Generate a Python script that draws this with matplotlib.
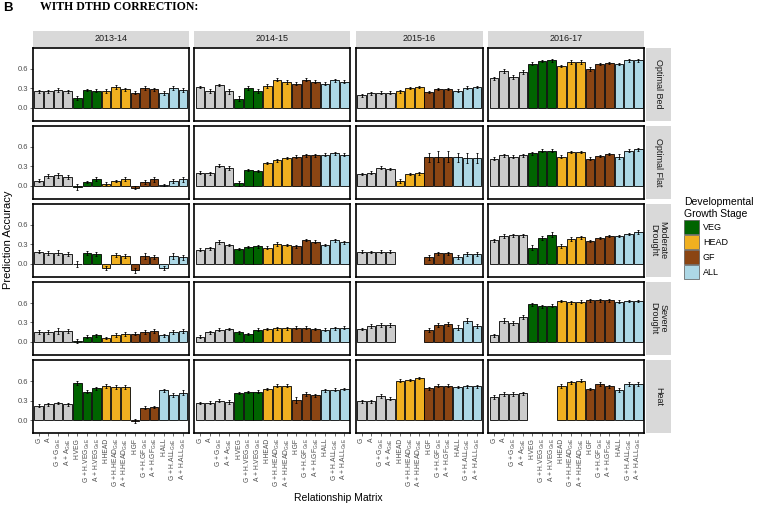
import numpy as np
import matplotlib.pyplot as plt
from matplotlib.patches import Rectangle, Patch

plt.rcParams['font.family'] = ['Liberation Sans', 'DejaVu Sans']
plt.rcParams['mathtext.fontset'] = 'custom'
plt.rcParams['mathtext.rm'] = 'Liberation Sans'

nan = np.nan
years = ['2013-14', '2014-15', '2015-16', '2016-17']
envs = ['Optimal Bed', 'Optimal Flat', 'Moderate Drought', 'Severe Drought', 'Heat']
strip_names = ['Optimal Bed', 'Optimal Flat', 'Moderate\nDrought', 'Severe\nDrought', 'Heat']

labels_all = ['G', 'A', r'G + G$_{\mathrm{GxE}}$', r'A + A$_{\mathrm{GxE}}$',
              'H.VEG', r'G + H.VEG$_{\mathrm{GxE}}$', r'A + H.VEG$_{\mathrm{GxE}}$',
              'H.HEAD', r'G + H.HEAD$_{\mathrm{GxE}}$', r'A + H.HEAD$_{\mathrm{GxE}}$',
              'H.GF', r'G + H.GF$_{\mathrm{GxE}}$', r'A + H.GF$_{\mathrm{GxE}}$',
              'H.ALL', r'G + H.ALL$_{\mathrm{GxE}}$', r'A + H.ALL$_{\mathrm{GxE}}$']
stages_all = ['base'] * 4 + ['VEG'] * 3 + ['HEAD'] * 3 + ['GF'] * 3 + ['ALL'] * 3
# 2015-16 has no VEG matrices
no_veg = [0, 1, 2, 3] + list(range(7, 16))

stage_colors = {'base': '#CCCCCC', 'VEG': '#006400', 'HEAD': '#F0B020',
                'GF': '#8B4513', 'ALL': '#ADD8E6'}

# prediction accuracy (2015-16 lists skip the VEG bars)
optimal_bed = {
    '2013-14': [0.25, 0.25, 0.27, 0.25, 0.15, 0.27, 0.26, 0.25, 0.32, 0.28, 0.23, 0.30, 0.28, 0.23, 0.30, 0.27],
    '2014-15': [0.32, 0.25, 0.35, 0.25, 0.14, 0.30, 0.26, 0.34, 0.43, 0.39, 0.37, 0.43, 0.40, 0.37, 0.42, 0.40],
    '2015-16': [0.19, 0.22, 0.23, 0.23, 0.25, 0.30, 0.32, 0.24, 0.29, 0.29, 0.26, 0.31, 0.32],
    '2016-17': [0.45, 0.56, 0.47, 0.55, 0.68, 0.72, 0.73, 0.64, 0.70, 0.70, 0.60, 0.67, 0.69, 0.67, 0.73, 0.73],
}
optimal_flat = {
    '2013-14': [0.08, 0.15, 0.16, 0.14, -0.02, 0.06, 0.11, 0.03, 0.07, 0.11, -0.03, 0.06, 0.10, 0.01, 0.07, 0.10],
    '2014-15': [0.20, 0.19, 0.31, 0.27, 0.04, 0.24, 0.23, 0.35, 0.39, 0.43, 0.45, 0.47, 0.47, 0.48, 0.50, 0.48],
    '2015-16': [0.18, 0.20, 0.28, 0.26, 0.07, 0.18, 0.19, 0.44, 0.45, 0.45, 0.44, 0.43, 0.43],
    '2016-17': [0.42, 0.47, 0.45, 0.47, 0.50, 0.54, 0.54, 0.45, 0.52, 0.52, 0.42, 0.46, 0.49, 0.45, 0.54, 0.56],
}
moderate_drought = {
    '2013-14': [0.19, 0.17, 0.17, 0.15, 0.00, 0.17, 0.15, -0.06, 0.13, 0.12, -0.10, 0.12, 0.10, -0.06, 0.12, 0.10],
    '2014-15': [0.22, 0.24, 0.33, 0.29, 0.23, 0.26, 0.27, 0.25, 0.30, 0.29, 0.27, 0.37, 0.34, 0.29, 0.36, 0.33],
    '2015-16': [0.19, 0.18, 0.19, 0.19, nan, nan, nan, 0.10, 0.16, 0.16, 0.10, 0.15, 0.15],
    '2016-17': [0.36, 0.43, 0.44, 0.44, 0.25, 0.40, 0.45, 0.28, 0.38, 0.41, 0.35, 0.40, 0.43, 0.43, 0.46, 0.49],
}
severe_drought = {
    '2013-14': [0.15, 0.16, 0.17, 0.17, 0.01, 0.08, 0.10, 0.06, 0.11, 0.12, 0.13, 0.16, 0.17, 0.10, 0.16, 0.17],
    '2014-15': [0.08, 0.15, 0.19, 0.20, 0.15, 0.12, 0.19, 0.20, 0.21, 0.21, 0.22, 0.22, 0.20, 0.19, 0.21, 0.22],
    '2015-16': [0.20, 0.25, 0.26, 0.26, nan, nan, nan, 0.19, 0.26, 0.27, 0.22, 0.33, 0.25],
    '2016-17': [0.10, 0.33, 0.29, 0.38, 0.58, 0.55, 0.56, 0.63, 0.61, 0.62, 0.64, 0.64, 0.64, 0.62, 0.63, 0.63],
}
heat = {
    '2013-14': [0.22, 0.24, 0.26, 0.24, 0.57, 0.44, 0.49, 0.52, 0.51, 0.51, -0.01, 0.19, 0.20, 0.46, 0.39, 0.42],
    '2014-15': [0.26, 0.27, 0.30, 0.28, 0.42, 0.43, 0.44, 0.48, 0.53, 0.53, 0.31, 0.40, 0.38, 0.46, 0.47, 0.48],
    '2015-16': [0.29, 0.29, 0.37, 0.33, 0.61, 0.62, 0.65, 0.49, 0.53, 0.53, 0.51, 0.52, 0.52],
    '2016-17': [0.35, 0.40, 0.40, 0.41, nan, nan, nan, 0.53, 0.58, 0.61, 0.48, 0.55, 0.52, 0.47, 0.56, 0.55],
}
accuracy = [optimal_bed, optimal_flat, moderate_drought, severe_drought, heat]

# standard errors (rough)
err_bed = {
    '2013-14': [0.02, 0.02, 0.03, 0.02, 0.03, 0.02, 0.02, 0.03, 0.03, 0.03, 0.02, 0.03, 0.03, 0.03, 0.03, 0.03],
    '2014-15': [0.02, 0.03, 0.02, 0.04, 0.04, 0.03, 0.03, 0.03, 0.02, 0.03, 0.02, 0.02, 0.02, 0.02, 0.02, 0.02],
    '2015-16': [0.02, 0.02, 0.02, 0.02, 0.02, 0.02, 0.02, 0.02, 0.02, 0.02, 0.02, 0.02, 0.02],
    '2016-17': [0.02, 0.03, 0.03, 0.03, 0.02, 0.02, 0.02, 0.02, 0.03, 0.03, 0.03, 0.02, 0.02, 0.02, 0.02, 0.02],
}
err_flat = {
    '2013-14': [0.02, 0.03, 0.04, 0.03, 0.05, 0.02, 0.03, 0.02, 0.02, 0.03, 0.02, 0.03, 0.04, 0.02, 0.03, 0.04],
    '2014-15': [0.02, 0.02, 0.02, 0.03, 0.04, 0.02, 0.02, 0.02, 0.02, 0.02, 0.02, 0.02, 0.02, 0.02, 0.02, 0.02],
    '2015-16': [0.02, 0.02, 0.02, 0.02, 0.03, 0.02, 0.02, 0.07, 0.08, 0.08, 0.07, 0.08, 0.08],
    '2016-17': [0.02, 0.02, 0.02, 0.02, 0.02, 0.02, 0.02, 0.02, 0.02, 0.02, 0.02, 0.02, 0.02, 0.04, 0.02, 0.02],
}
err_moderate = {
    '2013-14': [0.03, 0.03, 0.04, 0.03, 0.05, 0.03, 0.03, 0.03, 0.03, 0.03, 0.04, 0.04, 0.03, 0.03, 0.04, 0.04],
    '2014-15': [0.02, 0.02, 0.03, 0.02, 0.02, 0.02, 0.02, 0.02, 0.03, 0.02, 0.02, 0.02, 0.02, 0.02, 0.02, 0.02],
    '2015-16': [0.02, 0.02, 0.02, 0.02, nan, nan, nan, 0.04, 0.03, 0.03, 0.03, 0.03, 0.03],
    '2016-17': [0.02, 0.03, 0.02, 0.02, 0.04, 0.03, 0.04, 0.03, 0.03, 0.02, 0.02, 0.02, 0.02, 0.02, 0.02, 0.03],
}
err_severe = {
    '2013-14': [0.03, 0.03, 0.04, 0.03, 0.03, 0.02, 0.03, 0.02, 0.03, 0.03, 0.03, 0.03, 0.03, 0.03, 0.03, 0.03],
    '2014-15': [0.02, 0.02, 0.02, 0.02, 0.02, 0.02, 0.02, 0.02, 0.02, 0.02, 0.02, 0.02, 0.02, 0.02, 0.02, 0.02],
    '2015-16': [0.02, 0.03, 0.03, 0.03, nan, nan, nan, 0.03, 0.03, 0.03, 0.04, 0.04, 0.03],
    '2016-17': [0.03, 0.04, 0.03, 0.03, 0.02, 0.02, 0.02, 0.02, 0.02, 0.02, 0.02, 0.02, 0.02, 0.02, 0.02, 0.02],
}
err_heat = {
    '2013-14': [0.02, 0.02, 0.02, 0.03, 0.03, 0.03, 0.02, 0.03, 0.03, 0.03, 0.03, 0.02, 0.02, 0.02, 0.03, 0.04],
    '2014-15': [0.02, 0.02, 0.02, 0.03, 0.02, 0.02, 0.02, 0.02, 0.02, 0.02, 0.04, 0.03, 0.02, 0.02, 0.02, 0.02],
    '2015-16': [0.02, 0.02, 0.03, 0.02, 0.02, 0.02, 0.02, 0.02, 0.02, 0.02, 0.02, 0.02, 0.02],
    '2016-17': [0.03, 0.03, 0.03, 0.03, nan, nan, nan, 0.03, 0.02, 0.02, 0.02, 0.03, 0.02, 0.03, 0.03, 0.03],
}
errors = [err_bed, err_flat, err_moderate, err_severe, err_heat]

fig = plt.figure(figsize=(7.57, 5.05), dpi=100)
ncat = [16, 16, 13, 16]
gs = fig.add_gridspec(5, 4, left=33 / 757, right=644 / 757, top=1 - 48 / 505, bottom=1 - 433 / 505,
                      wspace=0.038, hspace=0.076, width_ratios=[n + 0.2 for n in ncat])

for r, env in enumerate(envs):
    for c, yr in enumerate(years):
        ax = fig.add_subplot(gs[r, c])
        idx = no_veg if yr == '2015-16' else list(range(16))
        vals = np.array(accuracy[r][yr], dtype=float)
        err = np.array(errors[r][yr], dtype=float)
        x = np.arange(len(idx))
        cols = [stage_colors[stages_all[i]] for i in idx]
        ok = ~np.isnan(vals)
        ax.bar(x[ok], vals[ok], width=0.9, color=np.array(cols)[ok], edgecolor='black', linewidth=0.6)
        ax.errorbar(x[ok], vals[ok], yerr=err[ok], fmt='none', ecolor='black',
                    elinewidth=0.6, capsize=1.0, capthick=0.6)
        ax.set_xlim(-0.6, len(idx) - 0.4)
        ax.set_ylim(-0.2, 0.92)
        for s in ax.spines.values():
            s.set_linewidth(1.2)
            s.set_color('black')
        ax.tick_params(length=2, width=0.5, color='#333333', labelcolor='#4D4D4D', labelsize=5.5, pad=1.5)
        ax.set_yticks([0, 0.3, 0.6])
        if c == 0:
            ax.set_yticklabels(['0.0', '0.3', '0.6'])
        else:
            ax.tick_params(axis='y', left=False, labelleft=False)
        ax.set_xticks(x)
        if r == len(envs) - 1:
            ax.set_xticklabels([labels_all[i] for i in idx], rotation=90, fontsize=4.9)
        else:
            ax.tick_params(axis='x', bottom=False, labelbottom=False)
        if r == 0:
            ax.add_patch(Rectangle((0, 1.02), 1, 0.21, transform=ax.transAxes, clip_on=False,
                                   facecolor='#D9D9D9', edgecolor='none'))
            ax.text(0.5, 1.125, yr, transform=ax.transAxes, ha='center', va='center',
                    fontsize=6.5, color='#1A1A1A')
        if c == 3:
            ax.add_patch(Rectangle((1.013, 0), 0.16, 1, transform=ax.transAxes, clip_on=False,
                                   facecolor='#D9D9D9', edgecolor='none'))
            ax.text(1.093, 0.5, strip_names[r], transform=ax.transAxes, ha='center', va='center',
                    rotation=-90, fontsize=6.5, color='#1A1A1A', linespacing=1.0)

fig.text(0.004, 1 - 8 / 505, 'B', fontsize=9.5, fontweight='bold', va='center', ha='left')
fig.text(40 / 757, 1 - 7 / 505, 'WITH DTHD CORRECTION:', fontsize=8.5, fontweight='bold',
         family='Liberation Serif', va='center', ha='left')
fig.text(0.011, 1 - 240 / 505, 'Prediction Accuracy', rotation=90, fontsize=8, va='center', ha='center')
fig.text(338 / 757, 1 - 498 / 505, 'Relationship Matrix', fontsize=7.5, va='center', ha='center')

handles = [Patch(facecolor=stage_colors[s], edgecolor='#555555', linewidth=0.5) for s in ['VEG', 'HEAD', 'GF', 'ALL']]
fig.legend(handles, ['VEG', 'HEAD', 'GF', 'ALL'], loc='upper left', bbox_to_anchor=(684 / 757, 1 - 197 / 505),
           frameon=False, title='Developmental\nGrowth Stage', title_fontsize=7.5, fontsize=6.5,
           handlelength=1.7, handleheight=2.0, labelspacing=0.12, handletextpad=0.4,
           alignment='left', borderpad=0, borderaxespad=0)

fig.savefig('out.png', dpi=100)
